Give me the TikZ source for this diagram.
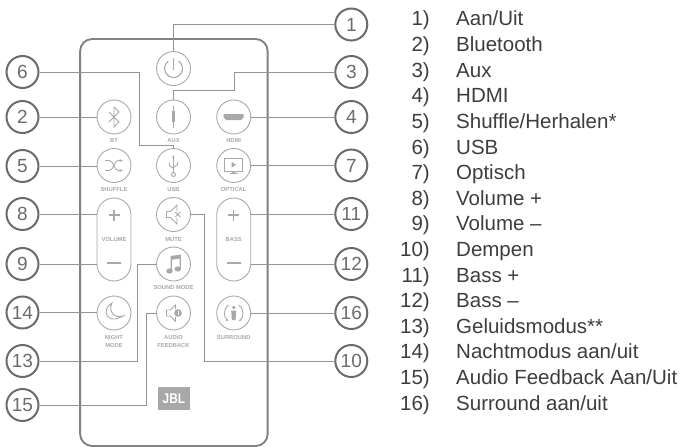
\documentclass[tikz,border=0pt]{standalone}
\usepackage{fontspec}
\setmainfont{Liberation Sans}
\usetikzlibrary{positioning, arrows.meta, calc}
\definecolor{RingGrey}{gray}{0.42}
\definecolor{WireGrey}{gray}{0.58}
\definecolor{KeyGrey}{gray}{0.66}
\definecolor{ListGrey}{gray}{0.24}
\tikzset{%
	numring/.style={shape=circle, minimum size=32pt, inner sep=0pt, draw=RingGrey, line width=2pt, text=RingGrey, font=\fontsize{19}{19}\selectfont},
	wire/.style={draw=WireGrey, line width=1pt},
	keybtn/.style={shape=circle, minimum size=34pt, inner sep=0pt, draw=KeyGrey, line width=0.9pt},
	keypill/.style={shape=rectangle, minimum width=34pt, minimum height=83pt, inner sep=0pt, rounded corners=17pt, draw=KeyGrey, line width=0.9pt, text=KeyGrey, font=\fontsize{5.8}{7.2}\selectfont\bfseries},
	keytext/.style={inner sep=0pt, text=KeyGrey, align=center, font=\fontsize{5.8}{7.2}\selectfont\bfseries},
	glyph/.style={draw=KeyGrey, line width=0.9pt},
	glyphfill/.style={fill=KeyGrey, draw=none},
	listtext/.style={inner sep=0pt, text=ListGrey, font=\fontsize{20.5}{24}\selectfont},
}

\begin{document}
\begin{tikzpicture}[x=1pt, y=-1pt]
	\useasboundingbox (0,0) rectangle (681,447);
	% the remote
	\node (remote) at (173.9,242.5) [shape=rectangle, minimum width=187.5pt, minimum height=407pt, inner sep=0pt, rounded corners=12pt, draw=RingGrey!85!white, line width=1.9pt] {};
	% numbered rings
	\foreach \n/\x/\y in {6/22.5/72, 2/22.5/117, 5/22.5/166, 8/22.5/214, 9/22.5/264, 14/22.5/312.5, 13/22.5/361, 15/22.5/405, 1/351.3/24.5, 3/351.3/72, 4/351.3/117, 7/351.3/165.5, 11/351.3/214, 12/351.3/264, 16/351.3/313, 10/351.3/361}
		\node (c\n) at (\x,\y) [numring] {\n};
	% keys
	\foreach \name/\x/\y in {power/173.5/68.5, bt/114/117, aux/173.5/117, hdmi/233.7/117, shuffle/114/165.5, usb/173.5/165.5, optical/233.7/165.5, mute/173.5/214.5, sound/173.5/264, night/114/313, feedback/173.5/313, surround/233.7/313}
		\node (\name) at (\x,\y) [keybtn] {};
	\node (volume) at (114,239.5) [keypill] {VOLUME};
	\node (bass) at (233.7,239.5) [keypill] {BASS};
	% key captions
	\foreach \name/\x/\y/\txt in {btcap/114/140.7/BT, auxcap/173.5/140.7/AUX, hdmicap/233.7/140.7/HDMI, shufflecap/114/189.3/SHUFFLE, usbcap/173.5/189.3/USB, opticalcap/233.7/189.3/OPTICAL, mutecap/173.5/239.5/MUTE, soundcap/173.5/287.5/SOUND MODE, surroundcap/233.7/337.5/SURROUND, nightcap/114/341.5/{NIGHT\\MODE}, feedbackcap/173.5/341.5/{AUDIO\\FEEDBACK}}
		\node (\name) at (\x,\y) [keytext] {\txt};
	\node (logo) at (173.9,398.5) [shape=rectangle, minimum width=32.5pt, minimum height=23.5pt, inner sep=0pt, fill=KeyGrey, text=white, font=\fontsize{14}{14}\selectfont\bfseries] {\scalebox{.85}[1]{JBL}};
	% connectors
	\coordinate (bend3) at (234,90);
	\coordinate (bend6) at (139,145);
	\coordinate (bend13) at (137,264);
	\coordinate (bend15) at (146,313);
	\coordinate (bend10) at (204,214.5);
	\draw[wire] (c1) -| (power.north);
	\draw[wire] (c3) -| (bend3) -| (aux.north);
	\draw[wire] (c6) -| (bend6) -| (usb.north);
	\draw[wire] (c2) -- (bt);
	\draw[wire] (c5) -- (c5 -| shuffle.west);
	\draw[wire] (c4) -- (hdmi);
	\draw[wire] (c7) -- (optical);
	\draw[wire] (c8) -- (c8 -| volume.west);
	\draw[wire] (c9) -- (c9 -| volume.west);
	\draw[wire] (c11) -- (c11 -| bass.east);
	\draw[wire] (c12) -- (c12 -| bass.east);
	\draw[wire] (c14) -- (c14 -| night.west);
	\draw[wire] (c16) -- (surround);
	\draw[wire] (c13) -| (bend13) -- (sound);
	\draw[wire] (c15) -| (bend15) -- (feedback);
	\draw[wire] (c10) -| (bend10) -- (mute);
	% key glyphs
	\begin{scope}[shift={(power)}]
		\draw[glyph, line width=1.1pt] (0,0) ++(305:9) arc[start angle=305, end angle=595, radius=9];
		\draw[glyph, line width=1.1pt] (0,-10.5) -- (0,1);
	\end{scope}
	\begin{scope}[shift={(bt)}]
		\draw[glyph] (-5,-5) -- (5,5) -- (0,10) -- (0,-10) -- (5,-5) -- (-5,5);
	\end{scope}
	\begin{scope}[shift={(aux)}]
		\draw[glyph] (0,-11) -- (0,11);
		\fill[KeyGrey] (-1.8,-6) rectangle (1.8,5);
	\end{scope}
	\begin{scope}[shift={(hdmi)}]
		\fill[KeyGrey] (-10,-3) -- (10,-3) -- (10,0.5) -- (7.5,3) -- (-7.5,3) -- (-10,0.5) -- cycle;
	\end{scope}
	\begin{scope}[shift={(shuffle)}]
		\draw[glyph, -{Stealth[length=3.5pt]}] (-9,-5) -- (-5,-5) .. controls (0,-5) and (0,5) .. (4,5) -- (9,5);
		\draw[glyph, -{Stealth[length=3.5pt]}] (-9,5) -- (-5,5) .. controls (0,5) and (0,-5) .. (4,-5) -- (9,-5);
	\end{scope}
	\begin{scope}[shift={(usb)}]
		\draw[glyph, -{Stealth[length=3pt]}] (0,7) -- (0,-10.5);
		\draw[glyph] (0,9) circle[radius=2];
		\draw[glyph] (0,3) -- (-4,0) -- (-4,-3);
		\draw[glyph] (0,2) -- (4,-1) -- (4,-4);
	\end{scope}
	\begin{scope}[shift={(optical)}]
		\draw[glyph] (-9,-7) rectangle (9,5.5);
		\fill[KeyGrey] (-2,-3.5) -- (2.5,-0.8) -- (-2,2) -- cycle;
		\fill[KeyGrey] (-1,5.5) -- (1,5.5) -- (1.5,7.5) -- (-1.5,7.5) -- cycle;
		\draw[glyph] (-4,8) -- (4,8);
	\end{scope}
	\begin{scope}[shift={(mute)}]
		\draw[glyph] (3.5,-3) -- (3.5,-9.5) -- (-3,-3) -- (-7,-3) -- (-7,3) -- (-3,3) -- (3.5,9.5) -- (3.5,3);
		\draw[glyph] (1.8,-2.5) -- (6.8,2.5) (1.8,2.5) -- (6.8,-2.5);
	\end{scope}
	\begin{scope}[shift={(sound)}]
		\fill[KeyGrey] (-4,7) ellipse[x radius=3.2, y radius=2.6];
		\fill[KeyGrey] (4.3,5) ellipse[x radius=3.2, y radius=2.6];
		\fill[KeyGrey] (-2.8,-8) -- (7.4,-9.5) -- (7.4,5) -- (6.2,5) -- (6.2,-5.5) -- (-1.6,-4.2) -- (-1.6,7) -- (-2.8,7) -- cycle;
	\end{scope}
	\begin{scope}[shift={(night)}]
		\draw[glyph] (-2,-10) .. controls (-13,-4) and (-8,13) .. (9,3) .. controls (0,6) and (-6,-2) .. cycle;
	\end{scope}
	\begin{scope}[shift={(feedback)}]
		\draw[glyph] (2,-8.5) -- (-3,-3) -- (-7,-3) -- (-7,3) -- (-3,3) -- (2,8.5);
		\draw[glyph] (2,-8.5) -- (2,-4) (2,4) -- (2,8.5);
		\fill[KeyGrey] (4.5,0) circle[radius=3.8];
		\draw[white, line width=1pt] (4.5,-2) -- (4.5,0.6) (4.5,1.4) -- (4.5,2.4);
	\end{scope}
	\begin{scope}[shift={(surround)}]
		\fill[KeyGrey] (0,-5.5) circle[radius=1.9];
		\fill[KeyGrey] (-2.5,-2.5) -- (2.5,-2.5) -- (1.8,7) -- (-1.8,7) -- cycle;
		\draw[glyph, -{Stealth[length=3pt]}] (-5,-8) .. controls (-11,-4) and (-10,5) .. (-5,8);
		\draw[glyph, -{Stealth[length=3pt]}] (5,-8) .. controls (11,-4) and (10,5) .. (5,8);
	\end{scope}
	\begin{scope}[shift={(volume.center)}]
		\draw[glyph, line width=1.4pt] (-5.5,-24.5) -- (5.5,-24.5) (0,-30) -- (0,-19);
		\draw[glyph, line width=1.4pt] (-7,23.5) -- (7,23.5);
	\end{scope}
	\begin{scope}[shift={(bass.center)}]
		\draw[glyph, line width=1.4pt] (-5.5,-24.5) -- (5.5,-24.5) (0,-30) -- (0,-19);
		\draw[glyph, line width=1.4pt] (-7,23.5) -- (7,23.5);
	\end{scope}
	% the list
	\foreach \n/\txt in {1/{Aan/Uit}, 2/Bluetooth, 3/Aux, 4/HDMI, 5/{Shuffle/Herhalen*}, 6/USB, 7/Optisch, 8/Volume +, 9/Volume –, 10/Dempen, 11/Bass +, 12/Bass –, 13/Geluidsmodus**, 14/{Nachtmodus aan/uit}, 15/{Audio Feedback Aan/Uit}, 16/{Surround aan/uit}} {
		\node (num\n) at (430,{26+25.6*(\n-1)}) [listtext, anchor=base east] {\n)};
		\node (item\n) at (456,{26+25.6*(\n-1)}) [listtext, anchor=base west] {\txt};
	}
\end{tikzpicture}
\end{document}
